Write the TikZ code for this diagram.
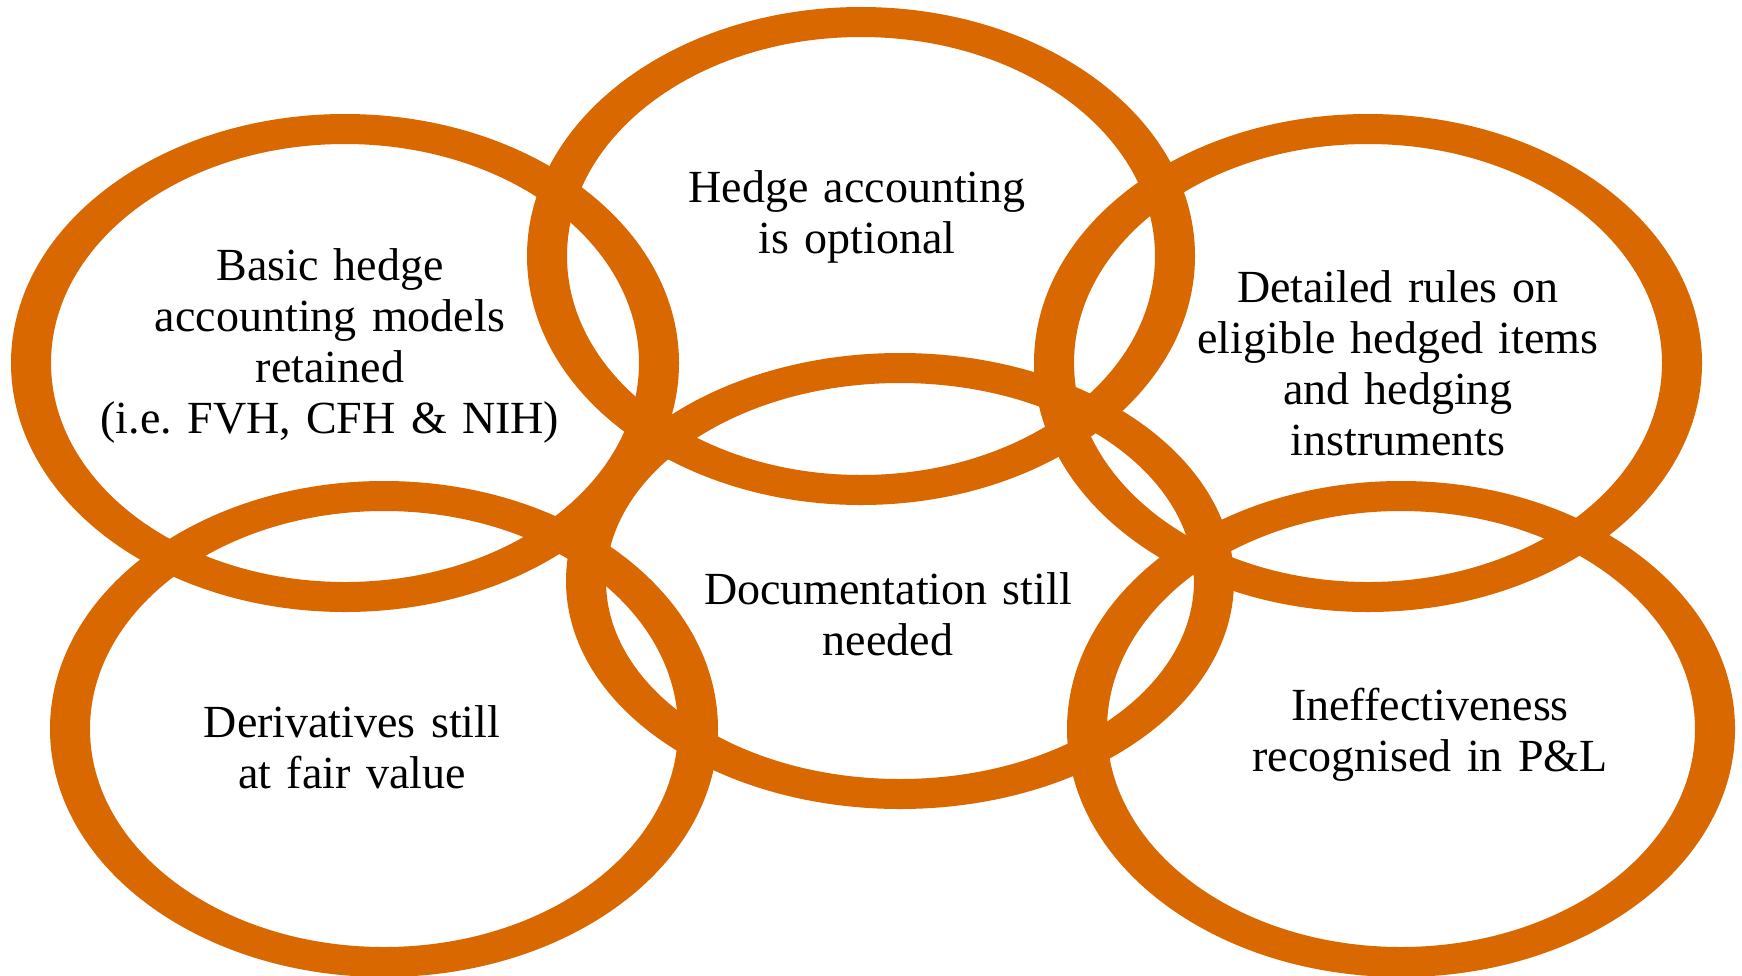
\documentclass[tikz,border=0pt]{standalone}
\usepackage{fontspec}
\setmainfont{Liberation Serif}[WordSpace=0.85]
\definecolor{ringorange}{RGB}{218,104,0}
\frenchspacing
\begin{document}
\begin{tikzpicture}[x=1pt,y=-1pt,
  ring/.style={fill=ringorange, even odd rule},
  ringlabel/.style={text width=520pt, align=center, anchor=base, inner sep=0pt,
    font=\fontsize{46}{51}\selectfont}]
\useasboundingbox (0,0) rectangle (1742,975);
\fill[white] (0,0) rectangle (1742,975);

% ring centres
\coordinate (c1) at (345,363);
\coordinate (c2) at (861,256);
\coordinate (c3) at (1368,363);
\coordinate (c4) at (384,729);
\coordinate (c5) at (900,581);
\coordinate (c6) at (1401,729);

% rings: outer ellipse minus inner ellipse
\fill[ring] (c1) ellipse [x radius=334pt, y radius=249pt] (c1) ellipse [x radius=294pt, y radius=219pt];
\fill[ring] (c2) ellipse [x radius=334pt, y radius=249pt] (c2) ellipse [x radius=294pt, y radius=219pt];
\fill[ring] (c3) ellipse [x radius=334pt, y radius=249pt] (c3) ellipse [x radius=294pt, y radius=219pt];
\fill[ring] (c4) ellipse [x radius=334pt, y radius=248pt] (c4) ellipse [x radius=294pt, y radius=218pt];
\fill[ring] (c5) ellipse [x radius=334pt, y radius=228pt] (c5) ellipse [x radius=294pt, y radius=198pt];
\fill[ring] (c6) ellipse [x radius=334pt, y radius=248pt] (c6) ellipse [x radius=294pt, y radius=218pt];

% labels
\node[ringlabel] (t1) at (330,280) {Basic hedge\\accounting models\\retained\\(i.e. FVH, CFH \& NIH)};
\node[ringlabel] (t2) at (857,202) {Hedge accounting\\is optional};
\node[ringlabel] (t3) at (1398,302) {Detailed rules on\\eligible hedged items\\and hedging\\instruments};
\node[ringlabel] (t4) at (352,737) {Derivatives still\\at fair value};
\node[ringlabel] (t5) at (888,604) {Documentation still\\needed};
\node[ringlabel] (t6) at (1430,720) {Ineffectiveness\\recognised in P\&L};
\end{tikzpicture}
\end{document}
